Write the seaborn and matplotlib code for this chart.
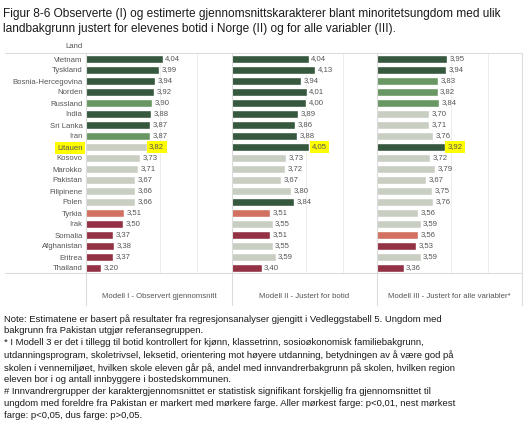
import matplotlib
matplotlib.use('Agg')
import matplotlib.pyplot as plt
import seaborn as sns
from matplotlib import font_manager
from matplotlib.lines import Line2D

# Data lest av figuren
land = ['Vietnam', 'Tyskland', 'Bosnia-Hercegovina', 'Norden', 'Russland', 'India',
        'Sri Lanka', 'Iran', 'Litauen', 'Kosovo', 'Marokko', 'Pakistan', 'Filipinene',
        'Polen', 'Tyrkia', 'Irak', 'Somalia', 'Afghanistan', 'Eritrea', 'Thailand']
modell_1 = [4.04, 3.99, 3.94, 3.92, 3.90, 3.88, 3.87, 3.87, 3.82, 3.73,
            3.71, 3.67, 3.66, 3.66, 3.51, 3.50, 3.37, 3.38, 3.37, 3.20]
modell_2 = [4.04, 4.13, 3.94, 4.01, 4.00, 3.89, 3.86, 3.88, 4.05, 3.73,
            3.72, 3.67, 3.80, 3.84, 3.51, 3.55, 3.51, 3.55, 3.59, 3.40]
modell_3 = [3.95, 3.94, 3.83, 3.82, 3.84, 3.70, 3.71, 3.76, 3.92, 3.72,
            3.79, 3.67, 3.75, 3.76, 3.56, 3.59, 3.56, 3.53, 3.59, 3.36]
# signifikans: D = mørk grønn, M = grønn, L = ikke sign., S = lys rød, R = mørk rød
sign_1 = ['D', 'D', 'D', 'D', 'M', 'D', 'D', 'M', 'L', 'L',
          'L', 'L', 'L', 'L', 'S', 'R', 'R', 'R', 'R', 'R']
sign_2 = ['D', 'D', 'D', 'D', 'D', 'D', 'D', 'D', 'D', 'L',
          'L', 'L', 'L', 'D', 'S', 'L', 'R', 'L', 'L', 'R']
sign_3 = ['D', 'D', 'M', 'M', 'M', 'L', 'L', 'L', 'D', 'L',
          'L', 'L', 'L', 'L', 'L', 'L', 'S', 'R', 'L', 'R']
modell_titler = ['Modell I - Observert gjennomsnitt', 'Modell II - Justert for botid',
                 'Modell III - Justert for alle variabler*']
markert = 'Litauen'

farger = {'D': '#2f5e3b', 'M': '#62a05a', 'L': '#c9d0c1', 'S': '#e5624e', 'R': '#a3223b'}
tekstfarge = '#555555'
linjefarge = '#dcdcdc'

tittel = ('Figur 8-6 Observerte (I) og estimerte gjennomsnittskarakterer blant minoritetsungdom med ulik\n'
          'landbakgrunn justert for elevenes botid i Norge (II) og for alle variabler (III).')
note = ('Note: Estimatene er basert på resultater fra regresjonsanalyser gjengitt i Vedleggstabell 5. Ungdom med\n'
        'bakgrunn fra Pakistan utgjør referansegruppen.\n'
        '* I Modell 3 er det i tillegg til botid kontrollert for kjønn, klassetrinn, sosioøkonomisk familiebakgrunn,\n'
        'utdanningsprogram, skoletrivsel, leksetid, orientering mot høyere utdanning, betydningen av å være god på\n'
        'skolen i vennemiljøet, hvilken skole eleven går på, andel med innvandrerbakgrunn på skolen, hvilken region\n'
        'eleven bor i og antall innbyggere i bostedskommunen.\n'
        '# Innvandrergrupper der karaktergjennomsnittet er statistisk signifikant forskjellig fra gjennomsnittet til\n'
        'ungdom med foreldre fra Pakistan er markert med mørkere farge. Aller mørkest farge: p<0,01, nest mørkest\n'
        'farge: p<0,05, dus farge: p>0,05.')

sns.set_style('white')
navn = {f.name for f in font_manager.fontManager.ttflist}
smal = 'Liberation Sans Narrow' if 'Liberation Sans Narrow' in navn else 'Liberation Sans'
plt.rcParams['font.family'] = [smal, 'DejaVu Sans']
fs = 5.6

W, H = 529, 425
fig = plt.figure(figsize=(W / 100, H / 100), dpi=100)


def rekt(x0, y0, x1, y1):
    return [x0 / W, 1 - y1 / H, (x1 - x0) / W, (y1 - y0) / H]


panel_x = [(86, 232), (232, 377), (377, 522)]
y_topp, y_bunn = 53, 305
rad0, radavstand = 59, 11.0
ylim = ((y_bunn - rad0) / radavstand, (y_topp - rad0) / radavstand)
linje_y = (273 - rad0) / radavstand

for k, (verdier, sign, mtittel) in enumerate(zip([modell_1, modell_2, modell_3],
                                                [sign_1, sign_2, sign_3], modell_titler)):
    x0, x1 = panel_x[k]
    ax = fig.add_axes(rekt(x0, y_topp, x1, y_bunn))
    sns.barplot(x=verdier, y=land, hue=land, palette=[farger[s] for s in sign],
                legend=False, errorbar=None, width=0.72, ax=ax, zorder=2)
    ax.set_xlim(3, 3 + (x1 - x0) / 73.8)
    ax.set_ylim(*ylim)
    ax.vlines([4.0, 4.5], ylim[1], linje_y, color='#ededed', lw=0.7, zorder=0.5)
    for i, v in enumerate(verdier):
        tekst = ax.text(v + 0.035, i, f'{v:.2f}'.replace('.', ','), va='center', ha='left',
                        fontsize=fs, color=tekstfarge, zorder=3)
        if land[i] == markert:
            tekst.set_bbox(dict(boxstyle='square,pad=0.3', fc='#ffff00', ec='none'))
    ax.text(3 + (x1 - x0) / 73.8 / 2, (296 - rad0) / radavstand, mtittel,
            ha='center', va='center', fontsize=fs, color=tekstfarge)
    ax.set_xlabel('')
    ax.set_ylabel('')
    ax.set_xticks([])
    for s in ['top', 'bottom', 'right']:
        ax.spines[s].set_visible(False)
    ax.spines['left'].set_color(linjefarge)
    ax.spines['left'].set_linewidth(0.8)
    if k == 2:
        ax.spines['right'].set_visible(True)
        ax.spines['right'].set_color(linjefarge)
        ax.spines['right'].set_linewidth(0.8)
    if k == 0:
        ax.set_yticks(range(len(land)))
        ax.set_yticklabels(land, fontsize=fs, color=tekstfarge)
        ax.tick_params(axis='y', length=0, pad=2.5)
        for lbl in ax.get_yticklabels():
            if lbl.get_text() == markert:
                lbl.set_bbox(dict(boxstyle='square,pad=0.3', fc='#ffff00', ec='none'))
    else:
        ax.set_yticks([])

# rammelinjer
for y in [53, 273]:
    fig.add_artist(Line2D([5 / W, 522 / W], [1 - y / H, 1 - y / H], color=linjefarge, lw=0.8))

fig.text(83 / W, 1 - 47 / H, 'Land', ha='right', va='center', fontsize=fs, color=tekstfarge)
fig.text(3 / W, 1 - 8 / H, tittel, ha='left', va='top', fontsize=8.6, color='#1a1a1a',
         linespacing=1.33)
fig.text(4 / W, 1 - 314 / H, note, ha='left', va='top', fontsize=6.8, color='#1a1a1a',
         linespacing=1.39)

fig.savefig('out.png', dpi=100)
